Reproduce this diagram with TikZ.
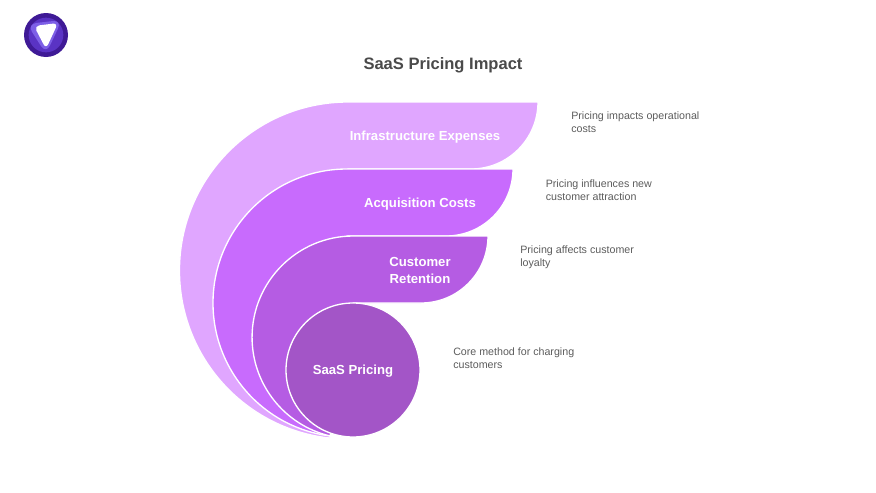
\documentclass[tikz,border=0pt]{standalone}
\usepackage{fontspec}
\setmainfont{Liberation Sans}
\definecolor{infraColor}{HTML}{E0A6FF}
\definecolor{acquColor}{HTML}{C86BFD}
\definecolor{retenColor}{HTML}{B55CE3}
\definecolor{coreColor}{HTML}{A355C7}
\definecolor{titleColor}{HTML}{4A4A4A}
\definecolor{descColor}{HTML}{5C5C5C}
\definecolor{logoDark}{HTML}{3F1A96}
\definecolor{logoMid}{HTML}{5A33C4}
\definecolor{logoLight}{HTML}{7D5FE6}
\tikzset{
	bandlabel/.style={text=white, font=\bfseries\fontsize{9.85pt}{12.7pt}\selectfont, align=center},
	desclabel/.style={text=descColor, anchor=west, align=left, inner sep=0pt, font=\fontsize{8pt}{9.5pt}\selectfont},
	coreball/.style={circle, fill=coreColor, draw=white, line width=1pt, minimum size=100.5pt, inner sep=0pt},
}
\begin{document}
\begin{tikzpicture}[x=0.75pt, y=0.75pt]
	\useasboundingbox (0,0) rectangle (876,-493);
	%logo
	\fill[logoDark] (46,-35) circle (16.5pt);
	\fill[logoMid] (46,-35) circle (13pt);
	\fill[logoLight, rounded corners=7pt] (27,-24) -- (62,-20) -- (46,-54) -- cycle;
	\fill[white, rounded corners=4pt] (34,-26) -- (58,-23) -- (46,-49) -- cycle;
	\node[text=titleColor, font=\bfseries\fontsize{12.4pt}{15pt}\selectfont] (title) at (443,-65) {SaaS Pricing Impact};
	%bands, outer one first
	\foreach \col/\top/\cx/\cy/\rad/\stop/\tip in {
		infraColor/102/348/270/126.4/263.85/538,
		acquColor/169/347/303/100.5/262.74/513,
		retenColor/236/353.4/337.4/76/256.7/488}{
		\draw[fill=\col, draw=white, line width=1pt]
			(\tip,-\top) -- (\cx,-\top) arc[start angle=90, end angle=\stop, radius=\rad pt]
			-- (\cx,-\cy) -- (\cx,-\top-67) -- (\tip-67,-\top-67)
			arc[start angle=270, end angle=360, radius=50.25pt] -- cycle;
	}
	\node[coreball, bandlabel] (core) at (353,-370) {\raisebox{-3.2pt}[0pt][0pt]{SaaS Pricing}};
	%band names
	\node[bandlabel] (infra) at (425,-137.5) {Infrastructure Expenses};
	\node[bandlabel] (acqu) at (420,-204.5) {Acquisition Costs};
	\node[bandlabel] (reten) at (420,-270.5) {Customer\\Retention};
	%texts on the right
	\node[desclabel] (infradesc) at (571,-122.5) {Pricing impacts operational\\costs};
	\node[desclabel] (acqudesc) at (545.5,-190) {Pricing influences new\\customer attraction};
	\node[desclabel] (retendesc) at (520,-257) {Pricing affects customer\\loyalty};
	\node[desclabel] (coredesc) at (453,-358) {Core method for charging\\customers};
\end{tikzpicture}
\end{document}
